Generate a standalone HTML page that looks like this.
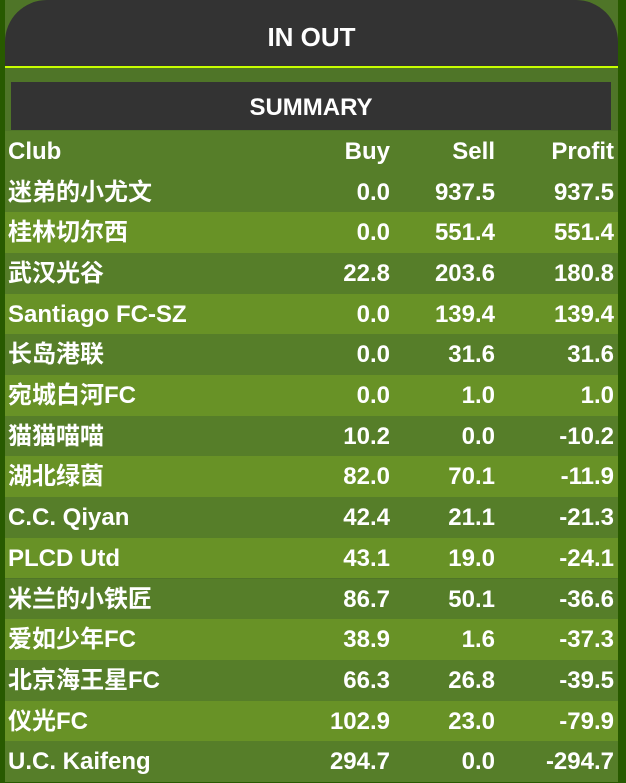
<!DOCTYPE html>
<html><head><meta charset="utf-8"><style>
html,body{margin:0;padding:0;}
body{width:626px;height:782px;background:#285a00;overflow:hidden;position:relative;font-family:"Liberation Sans","Noto Sans CJK SC",sans-serif;color:#fff;}
#panel{position:absolute;left:5px;top:0;width:613px;height:782px;background:#4f7528;}
#hdr{position:absolute;left:0;top:0;width:613px;height:66px;background:#333;border-radius:42px 42px 0 0;text-align:center;line-height:74px;font-size:26px;font-weight:bold;}
#line{position:absolute;left:0;top:66px;width:613px;height:2px;background:#c8ff00;}
#sum{position:absolute;left:6px;top:82px;width:600px;height:48px;background:#333;text-align:center;line-height:52px;font-size:24px;font-weight:bold;}
.row{position:absolute;left:0;width:613px;height:40.7px;font-size:24px;line-height:42px;font-weight:bold;}
.row span{position:absolute;top:0;}
.c0{left:3px;} .c1{right:228px;} .c2{right:123px;} .c3{right:4px;}
</style></head><body>
<div id="panel">
<div id="hdr">IN OUT</div>
<div id="line"></div>
<div id="sum">SUMMARY</div>
<div id="rows"></div>
</div>
<script>
const clubs=["迷弟的小尤文","桂林切尔西","武汉光谷","Santiago FC-SZ","长岛港联","宛城白河FC","猫猫喵喵","湖北绿茵","C.C. Qiyan","PLCD Utd","米兰的小铁匠","爱如少年FC","北京海王星FC","仪光FC","U.C. Kaifeng"];
const buy=["0.0","0.0","22.8","0.0","0.0","0.0","10.2","82.0","42.4","43.1","86.7","38.9","66.3","102.9","294.7"];
const sell=["937.5","551.4","203.6","139.4","31.6","1.0","0.0","70.1","21.1","19.0","50.1","1.6","26.8","23.0","0.0"];
const profit=["937.5","551.4","180.8","139.4","31.6","1.0","-10.2","-11.9","-21.3","-24.1","-36.6","-37.3","-39.5","-79.9","-294.7"];
const host=document.getElementById('rows');
function mk(top,cells,bg,name){
  const r=document.createElement('div');
  r.className='row';
  
  
  r.style.top=top+'px';r.style.background=bg;
  cells.forEach((t,i)=>{const s=document.createElement('span');s.className='c'+i;s.textContent=t;
    
    
    r.appendChild(s);});
  host.appendChild(r);
}
mk(131,["Club","Buy","Sell","Profit"],"#567e29","table-header-row");
clubs.forEach((c,i)=>mk(171.5+i*40.7,[c,buy[i],sell[i],profit[i]],i%2? "#689226":"#567e29","club-row"));
</script>
</body></html>
